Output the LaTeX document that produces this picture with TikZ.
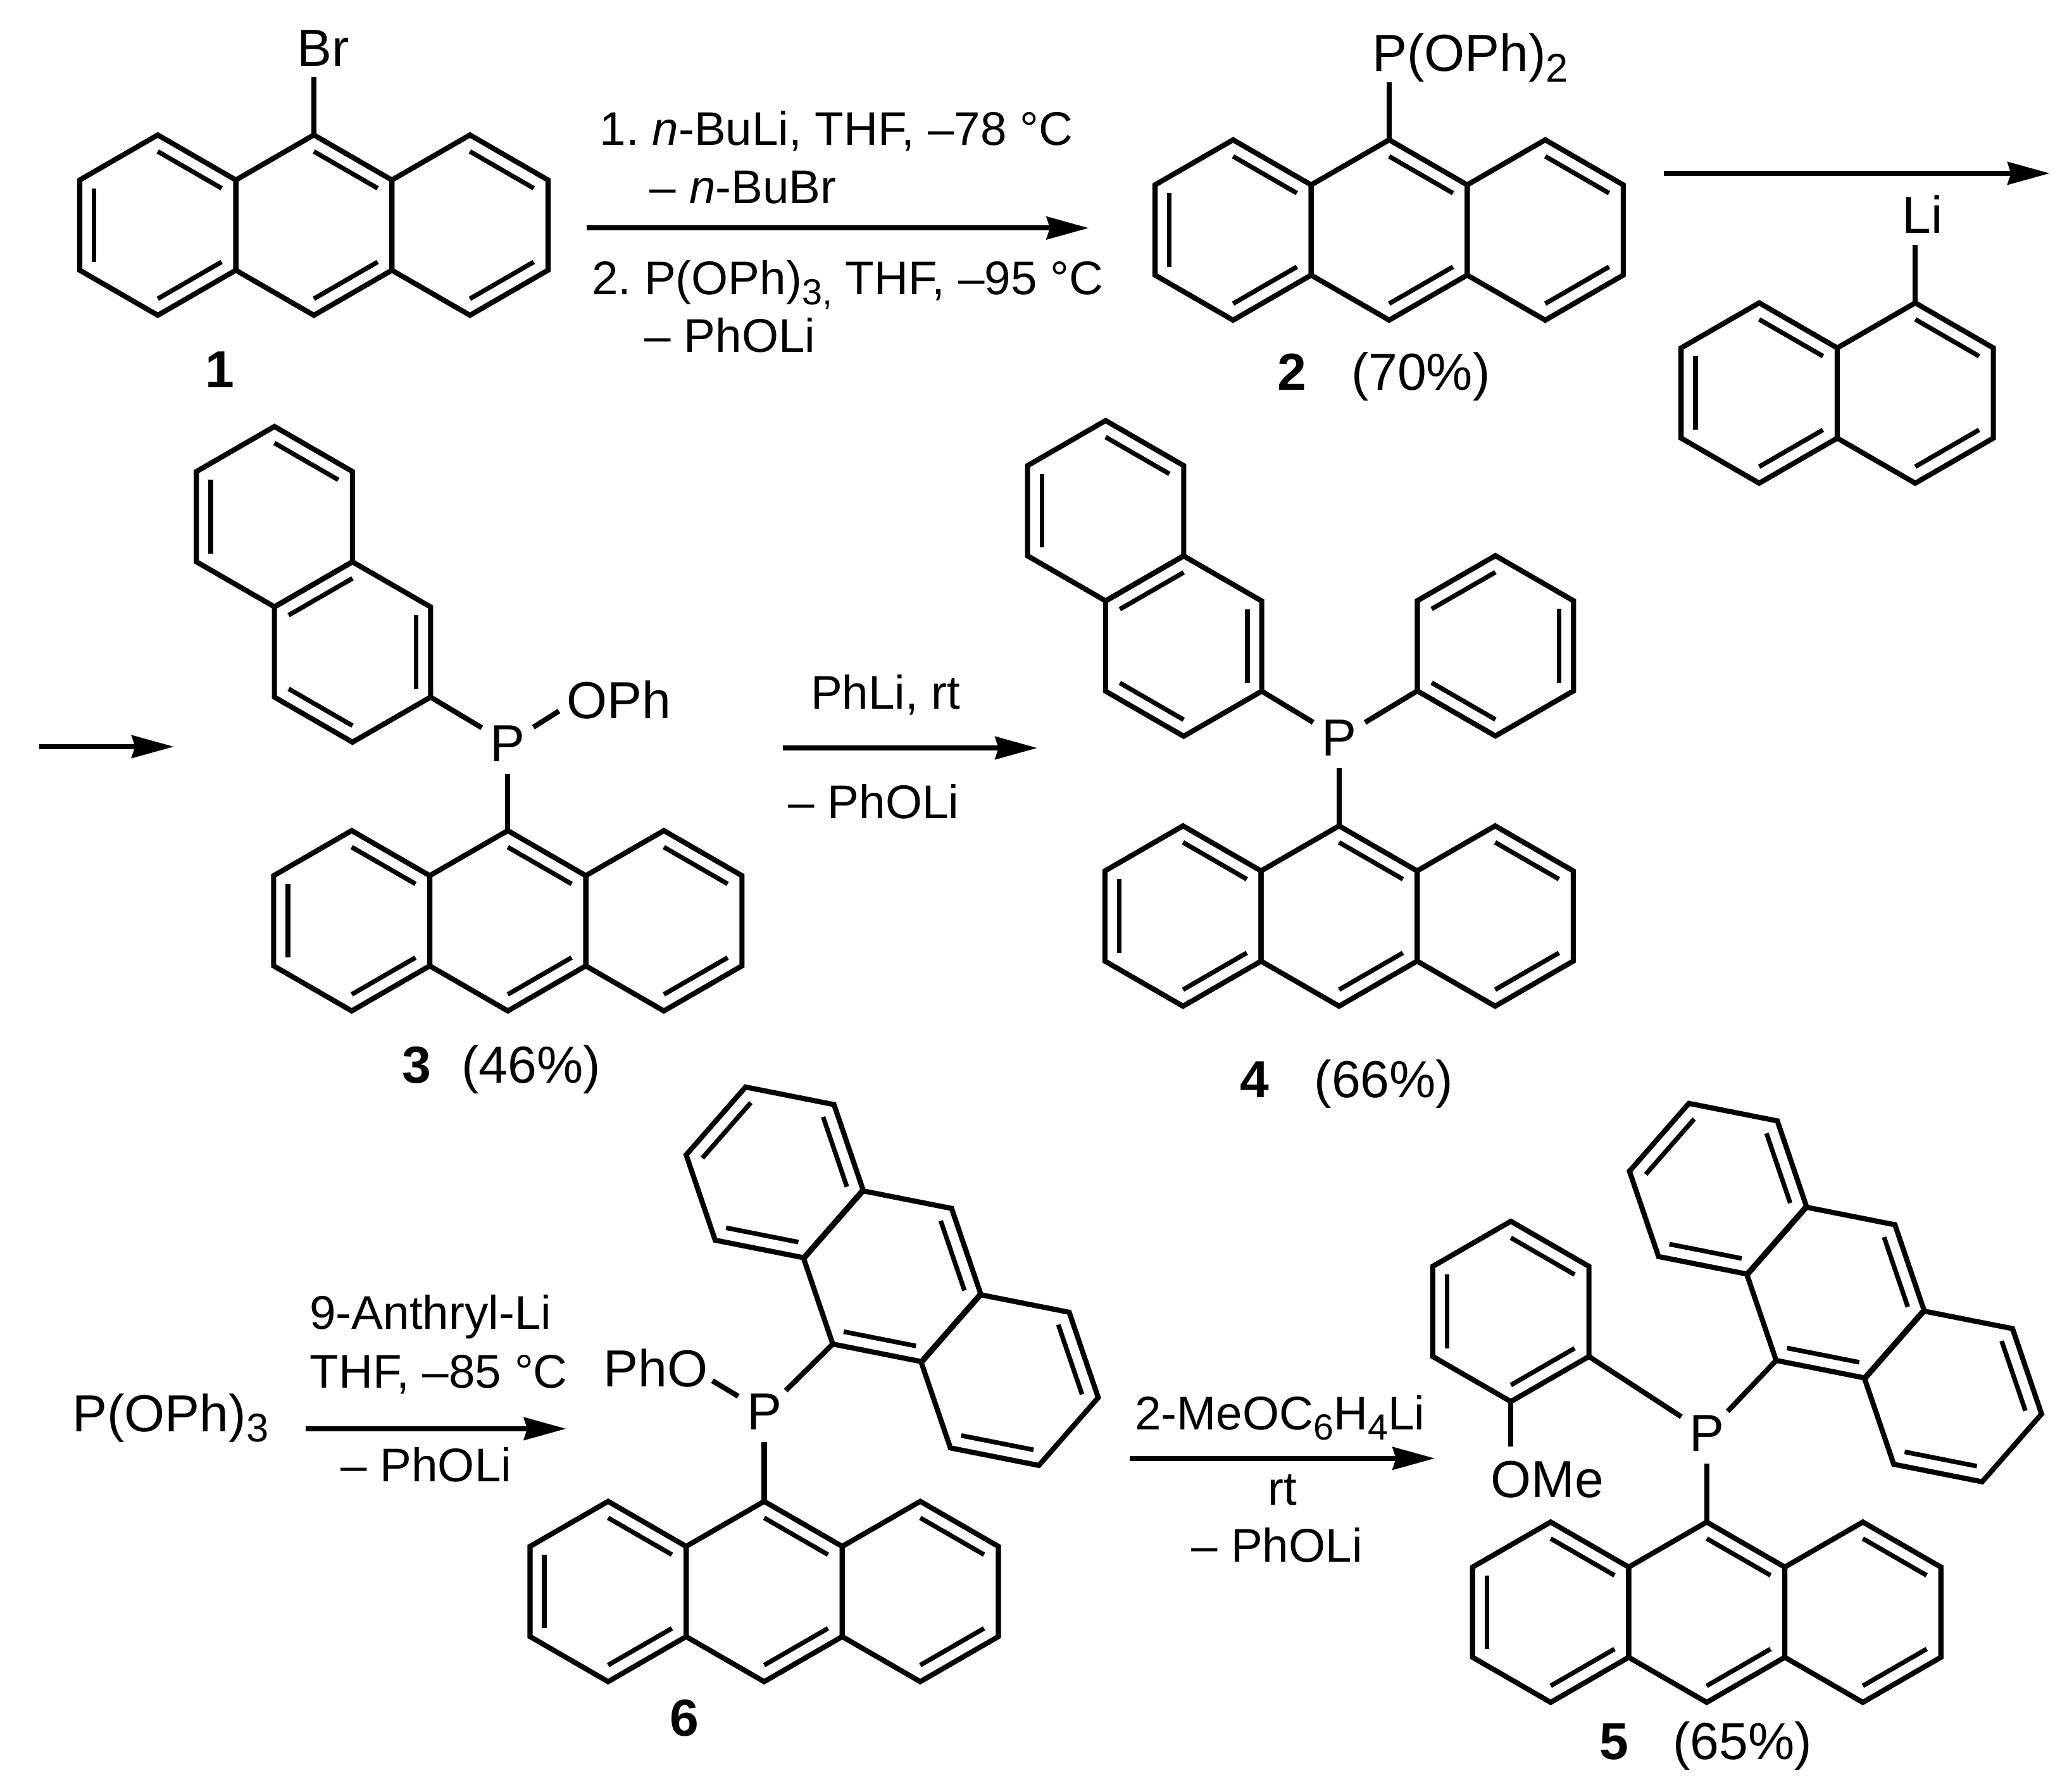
\documentclass[tikz,border=0pt]{standalone}
\usepackage{fontspec}
\setmainfont{Liberation Sans}
\usetikzlibrary{calc,arrows.meta}
\tikzset{
  bond/.style={line width=0.078cm,line join=miter},
  innerbond/.style={line width=0.07cm},
  rxn/.style={line width=0.078cm,-{Stealth[length=0.64cm,width=0.34cm,inset=0.05cm]}},
  lab/.style={inner sep=0,outer sep=0,anchor=base west,font=\fontsize{22.5pt}{26pt}\selectfont\frenchspacing},
  reag/.style={inner sep=0,outer sep=0,anchor=base west,font=\fontsize{20.4pt}{24pt}\selectfont\frenchspacing},
  num/.style={inner sep=0,outer sep=0,anchor=base west,font=\fontsize{22.5pt}{26pt}\selectfont\bfseries},
  atom/.style={circle,inner sep=0,outer sep=0,minimum size=0.92cm,font=\fontsize{22.5pt}{26pt}\selectfont},
}
\newcommand{\subtxt}[1]{\raisebox{-0.16cm}{\fontsize{17.3pt}{20pt}\selectfont #1}}
\newcommand{\subreag}[1]{\raisebox{-0.15cm}{\fontsize{15.7pt}{18pt}\selectfont #1}}
% ring centre name, x, y (y measured downward), rotation
\newcommand{\hexat}[4]{%
  \coordinate (#1) at ({#2},{-(#3)});
  \foreach \k in {1,...,6}{\coordinate (#1v\k) at ($(#1)+({90+60*(\k-1)+#4}:68.4)$);}
  \draw[bond] (#1v1)--(#1v2)--(#1v3)--(#1v4)--(#1v5)--(#1v6)--cycle;
}
\newcommand{\dbond}[3]{\draw[innerbond] ($(#1)!0.817!(#1v#2)$) -- ($(#1)!0.817!(#1v#3)$);}
\newcommand{\anthN}[3]{%
  \hexat{#1}{#2}{#3}{0}
  \hexat{#1L}{#2-118.4}{#3}{0}
  \hexat{#1R}{#2+118.4}{#3}{0}
  \dbond{#1L}{2}{3}\dbond{#1L}{1}{6}\dbond{#1L}{4}{5}
  \dbond{#1}{1}{6}\dbond{#1}{4}{5}
  \dbond{#1R}{1}{6}\dbond{#1R}{4}{5}
}
\newcommand{\anthF}[3]{%
  \hexat{#1}{#2}{#3}{138.8}
  \hexat{#1U}{#2-89.2}{#3-78.8}{138.8}
  \hexat{#1W}{#2+89.2}{#3+78.8}{138.8}
  \dbond{#1}{1}{2}\dbond{#1}{3}{4}
  \dbond{#1U}{1}{2}\dbond{#1U}{3}{4}\dbond{#1U}{5}{6}
  \dbond{#1W}{1}{2}\dbond{#1W}{3}{4}
}
\newcommand{\naphB}[3]{% 2-naphthyl: upper ring centre given
  \hexat{#1U}{#2}{#3}{0}
  \hexat{#1}{#2+59.2}{#3+102.7}{0}
  \dbond{#1U}{2}{3}\dbond{#1U}{1}{6}
  \dbond{#1}{1}{2}\dbond{#1}{3}{4}\dbond{#1}{5}{6}
}
\begin{document}
\begin{tikzpicture}[x=0.02cm,y=0.02cm]
\path[fill=white,use as bounding box] (0,0) rectangle (1568,-1359.6);

% compound 1
\anthN{a1}{238.1}{170.8}
\node[lab] (br) at (225.5,-50) {Br};
\coordinate (e1) at (238.1,-58.8);
\draw[bond] (a1v1) -- (e1);
\node[num] (n1) at (156,-294) {1};

% arrow 1
\coordinate (r1s) at (445,-173); \coordinate (r1e) at (826,-173);
\draw[rxn] (r1s) -- (r1e);
\node[reag] (t1a) at (455,-110) {1. \textit{n}-BuLi, THF, –78 °C};
\node[reag] (t1b) at (493,-154.5) {– \textit{n}-BuBr};
\node[reag] (t1c) at (449,-223.5) {2. P(OPh)\subreag{3,} THF, –95 °C};
\node[reag] (t1d) at (489,-267) {– PhOLi};

% compound 2
\anthN{a2}{1053.8}{174.5}
\node[lab] (p2) at (1041,-54) {P(OPh)\subtxt{2}};
\coordinate (e2) at (1053.8,-62.5);
\draw[bond] (a2v1) -- (e2);
\node[num] (n2) at (969,-296) {2};
\node[lab] (y2) at (1025,-296) {(70\%)};

% arrow 2 and LiNp
\coordinate (r2s) at (1262,-131.5); \coordinate (r2e) at (1555,-131.5);
\draw[rxn] (r2s) -- (r2e);
\hexat{npL}{1334.5}{298.2}{0}
\hexat{npR}{1452.9}{298.2}{0}
\dbond{npL}{2}{3}\dbond{npL}{1}{6}\dbond{npL}{4}{5}
\dbond{npR}{1}{6}\dbond{npR}{4}{5}
\node[lab] (li) at (1443,-177) {Li};
\coordinate (e3) at (1452.9,-186);
\draw[bond] (npRv1) -- (e3);

% arrow 3 (continuation)
\coordinate (r3s) at (30,-566.5); \coordinate (r3e) at (132,-566.5);
\draw[rxn] (r3s) -- (r3e);

% compound 3
\anthN{a3}{385.2}{698.6}
\naphB{n3}{208.2}{392}
\node[atom] (P3) at (385.2,-564) {P};
\node[lab] (oph3) at (430,-545) {OPh};
\coordinate (e4) at (424,-539.5);
\draw[bond] (a3v1) -- (P3);
\draw[bond] (n3v5) -- (P3);
\draw[bond] (P3) -- (e4);
\node[num] (n3lab) at (305,-821.5) {3};
\node[lab] (y3) at (350,-821.5) {(46\%)};

% arrow 4
\coordinate (r4s) at (594,-567.5); \coordinate (r4e) at (787,-567.5);
\draw[rxn] (r4s) -- (r4e);
\node[reag] (t4a) at (615,-538) {PhLi, rt};
\node[reag] (t4b) at (598,-621) {– PhOLi};

% compound 4
\anthN{a4}{1015.8}{695}
\naphB{n4}{838.7}{387.5}
\hexat{ph4}{1134.4}{490}{0}
\dbond{ph4}{1}{2}\dbond{ph4}{3}{4}\dbond{ph4}{5}{6}
\node[atom] (P4) at (1015.8,-560) {P};
\draw[bond] (a4v1) -- (P4);
\draw[bond] (n4v5) -- (P4);
\draw[bond] (ph4v3) -- (P4);
\node[num] (n4lab) at (940.5,-832.5) {4};
\node[lab] (y4) at (997,-832.5) {(66\%)};

% P(OPh)3 and arrow 5
\node[lab] (pop) at (55,-1086) {P(OPh)\subtxt{3}};
\coordinate (r5s) at (232,-1084); \coordinate (r5e) at (429.5,-1084);
\draw[rxn] (r5s) -- (r5e);
\node[reag] (t5a) at (235,-1008.5) {9-Anthryl-Li};
\node[reag] (t5b) at (235,-1053) {THF, –85 °C};
\node[reag] (t5c) at (258.5,-1124) {– PhOLi};

% compound 6
\anthN{a6}{579.7}{1207.5}
\anthF{b6}{676.8}{968.3}
\node[atom] (P6) at (579.7,-1071.2) {P};
\node[lab] (pho6) at (458,-1052) {PhO};
\coordinate (e5) at (540.4,-1047.6);
\draw[bond] (a6v1) -- (P6);
\draw[bond] (b6v1) -- (P6);
\draw[bond] (P6) -- (e5);
\node[num] (n6) at (508,-1317) {6};

% arrow 6
\coordinate (r6s) at (857,-1106.5); \coordinate (r6e) at (1088.5,-1106.5);
\draw[rxn] (r6s) -- (r6e);
\node[reag] (t6a) at (861,-1085) {2-MeOC\subreag{6}H\subreag{4}Li};
\node[reag] (t6b) at (962,-1142) {rt};
\node[reag] (t6c) at (904,-1185) {– PhOLi};

% compound 5
\anthN{a5}{1294.7}{1223.2}
\anthF{b5}{1392.4}{980.7}
\hexat{an5}{1146.1}{995}{0}
\dbond{an5}{2}{3}\dbond{an5}{1}{6}\dbond{an5}{4}{5}
\node[atom] (P5) at (1294.7,-1087.5) {P};
\draw[bond] (a5v1) -- (P5);
\draw[bond] (b5v1) -- (P5);
\draw[bond] (an5v5) -- (P5);
\node[lab] (ome) at (1131,-1136) {OMe};
\coordinate (e6) at (1146.1,-1097.6);
\draw[bond] (an5v4) -- (e6);
\node[num] (n5) at (1213.5,-1335) {5};
\node[lab] (y5) at (1269,-1335) {(65\%)};
\end{tikzpicture}
\end{document}
